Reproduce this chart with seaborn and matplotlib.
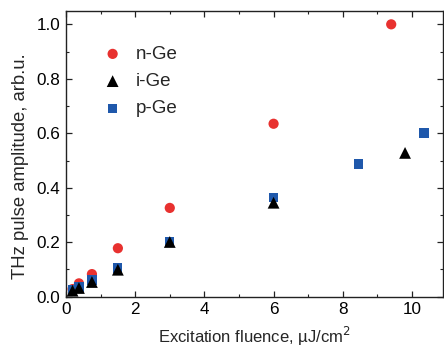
import numpy as np
import pandas as pd
import matplotlib
matplotlib.use("Agg")
import matplotlib.pyplot as plt
from matplotlib.ticker import MultipleLocator
import seaborn as sns

# Fluence (uJ/cm^2) and THz amplitude for each doping type
n_fluence = [0.19, 0.375, 0.75, 1.5, 3.0, 6.0, 9.4]
n_amp = [0.028, 0.049, 0.083, 0.178, 0.326, 0.635, 1.0]

i_fluence = [0.19, 0.375, 0.75, 1.5, 3.0, 6.0, 9.8]
i_amp = [0.022, 0.032, 0.054, 0.099, 0.201, 0.345, 0.528]

p_fluence = [0.19, 0.375, 0.75, 1.5, 3.0, 6.0, 8.45, 10.35]
p_amp = [0.026, 0.036, 0.061, 0.105, 0.204, 0.365, 0.487, 0.601]

labels = ["n-Ge", "i-Ge", "p-Ge"]

df = pd.concat([
    pd.DataFrame({"fluence": n_fluence, "amp": n_amp, "sample": labels[0]}),
    pd.DataFrame({"fluence": i_fluence, "amp": i_amp, "sample": labels[1]}),
    pd.DataFrame({"fluence": p_fluence, "amp": p_amp, "sample": labels[2]}),
], ignore_index=True)

sns.set_style("ticks")
plt.rcParams["font.family"] = ["Liberation Sans", "DejaVu Sans"]

fig = plt.figure(figsize=(4.44, 3.48), dpi=100)
ax = fig.add_axes([0.1486, 0.1474, 0.8494, 0.8218])

palette = {"n-Ge": "#e8312f", "i-Ge": "#000000", "p-Ge": "#1f58ab"}
markers = {"n-Ge": "o", "i-Ge": "^", "p-Ge": "s"}
sizes = {"n-Ge": 54, "i-Ge": 72, "p-Ge": 44}

for lab in labels:
    sub = df[df["sample"] == lab]
    sns.scatterplot(data=sub, x="fluence", y="amp", color=palette[lab],
                    marker=markers[lab], s=sizes[lab], edgecolor="none",
                    label=lab, ax=ax, zorder=3 if lab == "i-Ge" else 2)

ax.set_xlim(0, 10.9)
ax.set_ylim(0, 1.05)
ax.xaxis.set_major_locator(MultipleLocator(2))
ax.xaxis.set_minor_locator(MultipleLocator(1))
ax.yaxis.set_major_locator(MultipleLocator(0.2))
ax.yaxis.set_minor_locator(MultipleLocator(0.1))
ax.yaxis.set_major_formatter(matplotlib.ticker.FormatStrFormatter("%.1f"))

ax.tick_params(which="both", direction="in", top=True, right=True,
               colors="#222222", labelcolor="black")
ax.tick_params(which="major", length=4.5, width=0.9, labelsize=12.3, pad=4)
ax.tick_params(which="minor", length=2.5, width=0.8)
for sp in ax.spines.values():
    sp.set_linewidth(1.0)
    sp.set_color("#222222")

ax.set_xlabel("Excitation fluence, \u00b5J/cm$^2$", fontsize=12, labelpad=5.5)
ax.set_ylabel("THz pulse amplitude, arb.u.", fontsize=13.3)
ax.yaxis.set_label_coords(-0.098, 0.457)

leg = ax.legend(loc="upper left", bbox_to_anchor=(0.074, 0.904), frameon=False,
                fontsize=13.5, handlelength=1.2, handletextpad=0.63,
                labelspacing=0.54, markerscale=1.0, borderaxespad=0)

fig.savefig("out.png", dpi=100)
